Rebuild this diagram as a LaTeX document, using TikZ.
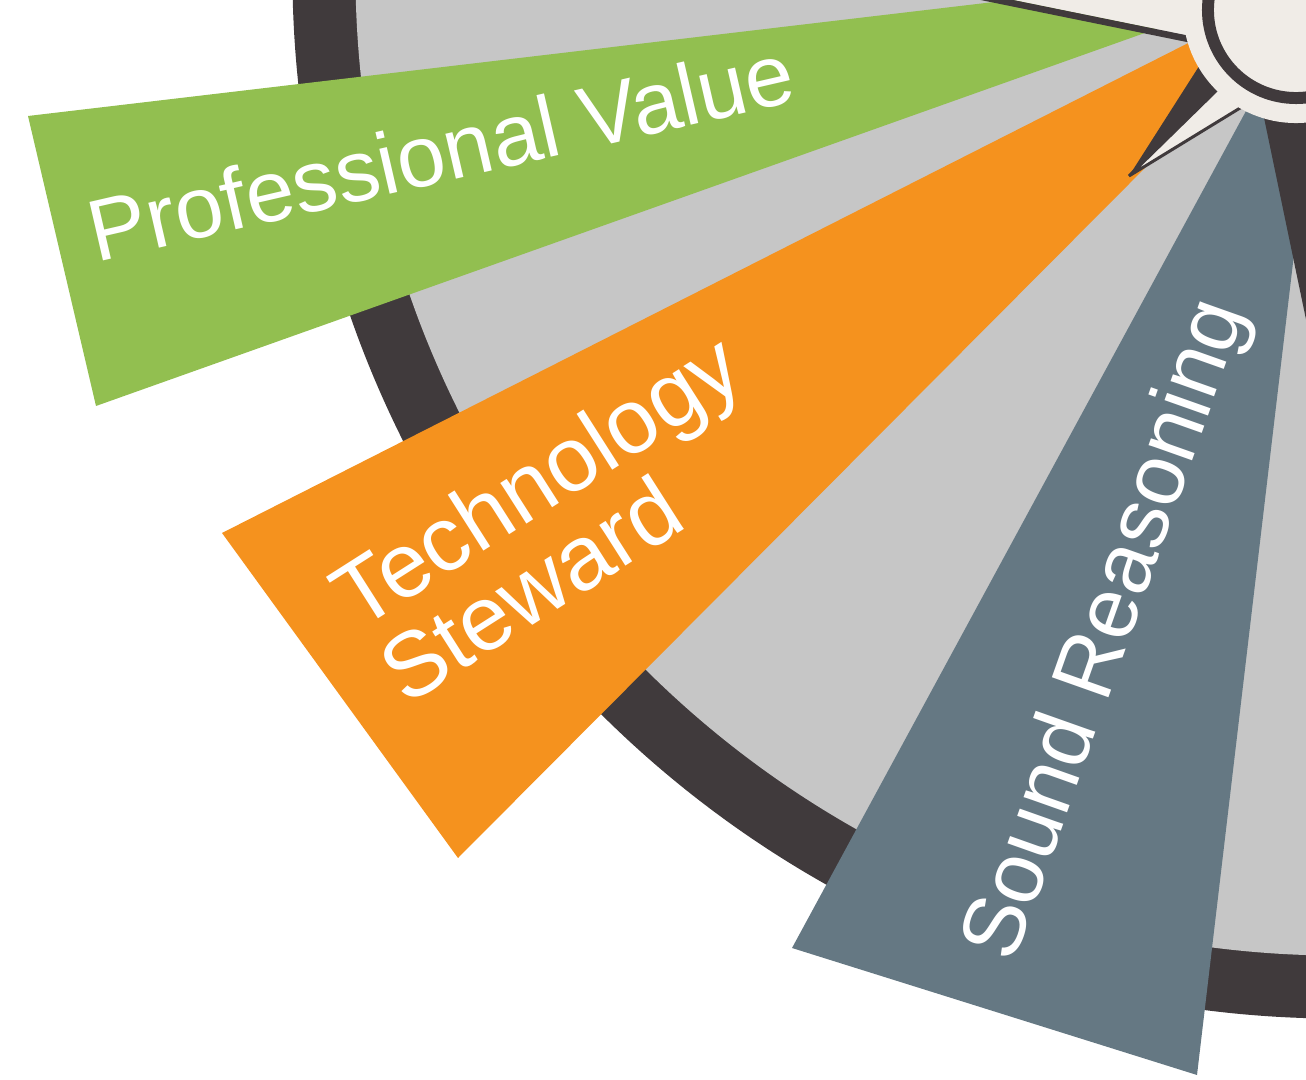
\documentclass[tikz,border=0pt]{standalone}
\usepackage{fontspec}
\setmainfont{Liberation Sans}
\usepackage{tikz}

\definecolor{ringdark}{HTML}{403A3C}
\definecolor{dialgray}{HTML}{C6C6C6}
\definecolor{cream}{HTML}{F0ECE7}
\definecolor{leafgreen}{HTML}{92BF50}
\definecolor{techorange}{HTML}{F5921E}
\definecolor{slate}{HTML}{657883}

\begin{document}
\begin{tikzpicture}[x=0.01cm, y=-0.01cm,
    wedgelabel/.style={text=white, font=\fontsize{24.8}{23.3}\selectfont, inner sep=0pt, anchor=base west}]
    \useasboundingbox (0,0) rectangle (1306,1080);
    \clip (0,0) rectangle (1306,1080);

    % Centres
    \coordinate (dial) at (1339,-28);
    \coordinate (hub) at (1296,10);
    \coordinate (tip) at (1129,176);

    % Dial ring
    \fill[ringdark] (dial) circle [radius=10.46cm];
    \fill[dialgray] (dial) circle [radius=9.83cm];

    % Wedges
    \fill[leafgreen] (1350,-40) -- (28,116) -- (96,406) -- cycle;
    \fill[techorange] (1352,-40) -- (222,533) -- (458,858) -- cycle;
    \fill[slate] (1329,-42) -- (792,948) -- (1197,1075) -- cycle;
    \fill[ringdark] (1239.5,0) -- (1329,430) -- (1400,430) -- (1400,0) -- cycle;

    % Needles
    \fill[cream] (1195,37) -- (900,-23) -- (900,-60) -- (1300,-60) -- cycle;
    \fill[ringdark] (1195,43.7) -- (900,-16.4) -- (900,-23) -- (1195,37) -- cycle;
    \fill[ringdark] (tip) -- (1203,60) -- (1222,85) -- cycle;
    \filldraw[fill=cream, draw=ringdark, line width=0.85pt, line join=bevel] (tip) -- (1222,85) -- (1245,105) -- cycle;

    % Hub
    \fill[cream] (hub) circle [radius=1.13cm];
    \draw[ringdark, line width=3.4pt] (hub) circle [radius=0.88cm];

    % Labels
    \node[wedgelabel, rotate=13] (pv) at (96,262.6) {Professional Value};
    \node[wedgelabel, rotate=32.5, align=left, font=\fontsize{26}{23.3}\selectfont] (ts) at (405.5,706.7) {Technology\\Steward};
    \node[wedgelabel, rotate=70.5] (sr) at (1013.6,965.6) {Sound Reasoning};
\end{tikzpicture}
\end{document}
